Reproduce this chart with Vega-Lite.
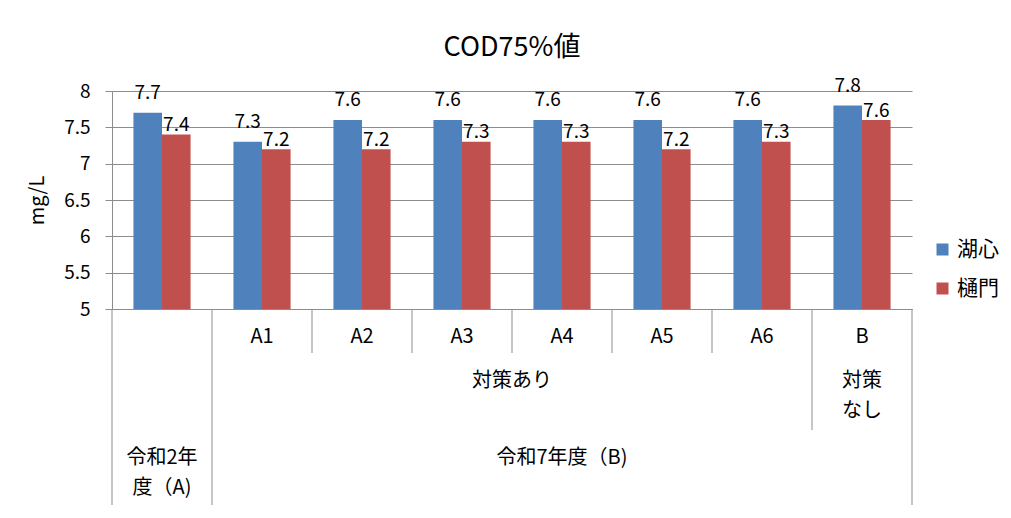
{
  "$schema": "https://vega.github.io/schema/vega-lite/v6.json",
  "padding": {"left": 27, "top": 33, "right": 5, "bottom": 5},
  "config": {"font": "Noto Sans CJK JP", "view": {"stroke": null}},
  "bounds": "flush",
  "spacing": 0,
  "datasets": {
    "cod": [
      {"cat": "R2", "series": "湖心", "value": 7.7},
      {"cat": "R2", "series": "樋門", "value": 7.4},
      {"cat": "A1", "series": "湖心", "value": 7.3},
      {"cat": "A1", "series": "樋門", "value": 7.2},
      {"cat": "A2", "series": "湖心", "value": 7.6},
      {"cat": "A2", "series": "樋門", "value": 7.2},
      {"cat": "A3", "series": "湖心", "value": 7.6},
      {"cat": "A3", "series": "樋門", "value": 7.3},
      {"cat": "A4", "series": "湖心", "value": 7.6},
      {"cat": "A4", "series": "樋門", "value": 7.3},
      {"cat": "A5", "series": "湖心", "value": 7.6},
      {"cat": "A5", "series": "樋門", "value": 7.2},
      {"cat": "A6", "series": "湖心", "value": 7.6},
      {"cat": "A6", "series": "樋門", "value": 7.3},
      {"cat": "B", "series": "湖心", "value": 7.8},
      {"cat": "B", "series": "樋門", "value": 7.6}
    ],
    "dividers": [
      {"cat": "R2", "depth": 3},
      {"cat": "A1", "depth": 3},
      {"cat": "A2", "depth": 1},
      {"cat": "A3", "depth": 1},
      {"cat": "A4", "depth": 1},
      {"cat": "A5", "depth": 1},
      {"cat": "A6", "depth": 1},
      {"cat": "B", "depth": 2}
    ],
    "edge": [
      {"cat": "B", "depth": 3}
    ],
    "labels": [
      {"cat": "A1", "tier": 0, "label": "A1"},
      {"cat": "A2", "tier": 0, "label": "A2"},
      {"cat": "A3", "tier": 0, "label": "A3"},
      {"cat": "A4", "tier": 0, "label": "A4"},
      {"cat": "A5", "tier": 0, "label": "A5"},
      {"cat": "A6", "tier": 0, "label": "A6"},
      {"cat": "B", "tier": 0, "label": "B"},
      {"cat": "B", "tier": 1, "label": "対策\nなし"},
      {"cat": "R2", "tier": 2, "label": "令和2年\n度（A)"},
      {"cat": "A4", "tier": 2, "label": "令和7年度（B)"}
    ],
    "spanLabels": [
      {"cat": "A4", "tier": 1, "label": "対策あり"}
    ]
  },
  "vconcat": [
    {
      "width": 800,
      "height": 218,
      "title": {"text": "COD75%値", "fontSize": 27, "fontWeight": "normal", "color": "#000000", "offset": 15},
      "data": {"name": "cod"},
      "layer": [
        {
          "mark": {"type": "bar", "clip": true},
          "encoding": {
            "x": {
              "field": "cat", "type": "nominal",
              "scale": {"domain": ["R2", "A1", "A2", "A3", "A4", "A5", "A6", "B"], "paddingInner": 0, "paddingOuter": 0},
              "axis": {"labels": false, "ticks": false, "title": null, "domainColor": "#8c8c8c", "grid": false}
            },
            "xOffset": {
              "field": "series", "type": "nominal",
              "scale": {"domain": ["湖心", "樋門"], "paddingOuter": 0.75, "paddingInner": 0}
            },
            "y": {
              "field": "value", "type": "quantitative",
              "scale": {"domain": [5, 8], "zero": false, "nice": false},
              "axis": {
                "tickCount": 6,
                "labelExpr": "'' + datum.value",
                "labelOverlap": false,
                "grid": true, "gridColor": "#8c8c8c",
                "domainColor": "#8c8c8c", "tickColor": "#8c8c8c",
                "tickSize": 7, "labelPadding": 15, "labelFontSize": 19, "labelColor": "#000000",
                "title": "mg/L", "titleFontSize": 20, "titleFontWeight": "normal", "titleColor": "#000000", "titlePadding": 16.5
              }
            },
            "color": {
              "field": "series", "type": "nominal",
              "scale": {"domain": ["湖心", "樋門"], "range": ["#4F81BD", "#C0504D"]},
              "legend": {
                "title": null, "orient": "none", "legendX": 820, "legendY": 148,
                "symbolType": "square", "symbolSize": 144, "symbolStrokeWidth": 0,
                "labelFontSize": 21, "labelColor": "#000000", "labelOffset": 4, "rowPadding": 17
              }
            }
          }
        },
        {
          "transform": [{"filter": "datum.series === '湖心'"}],
          "mark": {"type": "text", "baseline": "middle", "dy": -20, "fontSize": 19, "color": "#000000"},
          "encoding": {
            "x": {"field": "cat", "type": "nominal"},
            "xOffset": {"field": "series", "type": "nominal"},
            "y": {"field": "value", "type": "quantitative"},
            "text": {"field": "value", "type": "quantitative", "format": ".1f"}
          }
        },
        {
          "transform": [{"filter": "datum.series === '樋門'"}],
          "mark": {"type": "text", "baseline": "middle", "dy": -9.5, "fontSize": 19, "color": "#000000"},
          "encoding": {
            "x": {"field": "cat", "type": "nominal"},
            "xOffset": {"field": "series", "type": "nominal"},
            "y": {"field": "value", "type": "quantitative"},
            "text": {"field": "value", "type": "quantitative", "format": ".1f"}
          }
        }
      ]
    },
    {
      "width": 800,
      "height": 196,
      "layer": [
        {
          "data": {"name": "dividers"},
          "mark": {"type": "rule", "color": "#8c8c8c"},
          "encoding": {
            "x": {"field": "cat", "type": "nominal", "bandPosition": 0,
                  "scale": {"domain": ["R2", "A1", "A2", "A3", "A4", "A5", "A6", "B"], "paddingInner": 0, "paddingOuter": 0}, "axis": null},
            "y": {"field": "depth", "type": "quantitative", "scale": {"domain": [0, 1, 2, 3], "range": [0, 44, 121, 196], "zero": false, "nice": false}, "axis": null},
            "y2": {"datum": 0}
          }
        },
        {
          "data": {"name": "edge"},
          "mark": {"type": "rule", "color": "#8c8c8c"},
          "encoding": {
            "x": {"field": "cat", "type": "nominal", "bandPosition": 1, "axis": null},
            "y": {"field": "depth", "type": "quantitative", "axis": null},
            "y2": {"datum": 0}
          }
        },
        {
          "data": {"name": "labels"},
          "mark": {"type": "text", "baseline": "top", "dy": 18, "lineBreak": "\n", "lineHeight": 30, "fontSize": 20, "color": "#000000"},
          "encoding": {
            "x": {"field": "cat", "type": "nominal", "axis": null},
            "y": {"field": "tier", "type": "quantitative", "axis": null},
            "text": {"field": "label", "type": "nominal"}
          }
        },
        {
          "data": {"name": "spanLabels"},
          "mark": {"type": "text", "baseline": "top", "dy": 18, "lineBreak": "\n", "lineHeight": 30, "fontSize": 20, "color": "#000000"},
          "encoding": {
            "x": {"field": "cat", "type": "nominal", "bandPosition": 0, "axis": null},
            "y": {"field": "tier", "type": "quantitative", "axis": null},
            "text": {"field": "label", "type": "nominal"}
          }
        }
      ]
    }
  ]
}
